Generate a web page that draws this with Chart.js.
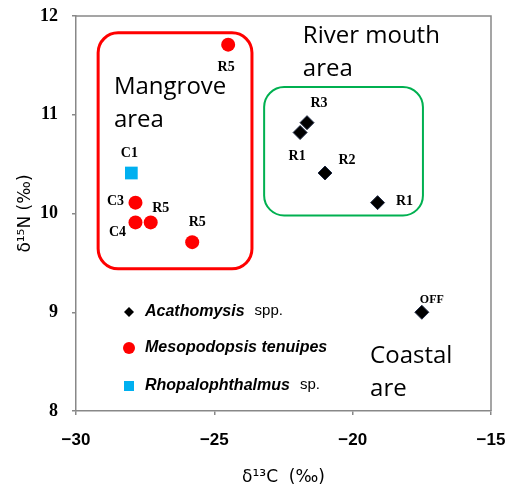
<!DOCTYPE html>
<html>
<head>
<meta charset="utf-8">
<script src="https://cdn.jsdelivr.net/npm/chart.js@4.4.1/dist/chart.umd.min.js"></script>
<style>
  body { margin: 0; background: #fff; }
</style>
</head>
<body>
<canvas id="chart" width="506" height="488"></canvas>
<script>
// values (d13C, d15N)
const acaX = [-21.65, -21.9, -21.0, -19.1, -17.5];
const acaY = [10.92, 10.82, 10.41, 10.11, 9.0];
const acaLabels = ['R3', 'R1', 'R2', 'R1', 'OFF'];

const mesoX = [-24.5, -27.85, -27.85, -27.3, -25.8];
const mesoY = [11.71, 10.11, 9.91, 9.91, 9.71];
const mesoLabels = ['R5', 'C3', 'C4', 'R5', 'R5'];

const rhoX = [-28.0];
const rhoY = [10.41];
const rhoLabels = ['C1'];

const xTicks = [-30, -25, -20, -15];
const yTicks = [8, 9, 10, 11, 12];

// area boxes in data units: [xMin, xMax, yMin, yMax]
const mangroveBox = [-29.2, -23.64, 9.44, 11.83];
const riverBox = [-23.2, -17.46, 9.98, 11.28];

// area captions: anchor (x, y of first baseline) and lines
const areaTexts = [
  { x: -28.63, y: 11.21, lines: ['Mangrove', 'area'] },
  { x: -21.8, y: 11.73, lines: ['River mouth', 'area'] },
  { x: -19.37, y: 8.49, lines: ['Coastal', 'are'] }
];

// label offsets from point, pixels
const acaOffsets = [[12, -19], [-3, 24], [22, -13], [27, -1], [10, -12]];
const mesoOffsets = [[-2, 23], [-20, -1], [-18, 10], [10, -14], [5, -20]];
const rhoOffsets = [[-2, -20]];

const toPoints = (xs, ys) => xs.map((x, i) => ({ x, y: ys[i] }));
const minus = v => String(v).replace('-', '\u2212');

function roundBox(ctx, x0, y0, x1, y1, r) {
  ctx.beginPath();
  ctx.moveTo(x0 + r, y0);
  ctx.lineTo(x1 - r, y0);
  ctx.arcTo(x1, y0, x1, y0 + r, r);
  ctx.lineTo(x1, y1 - r);
  ctx.arcTo(x1, y1, x1 - r, y1, r);
  ctx.lineTo(x0 + r, y1);
  ctx.arcTo(x0, y1, x0, y1 - r, r);
  ctx.lineTo(x0, y0 + r);
  ctx.arcTo(x0, y0, x0 + r, y0, r);
  ctx.closePath();
}

const decorations = {
  id: 'decorations',
  beforeDatasetsDraw(chart) {
    const { ctx, scales: { x, y } } = chart;
    const boxes = [[mangroveBox, '#ff0000', 3], [riverBox, '#00b050', 2]];
    ctx.save();
    boxes.forEach(([b, color, w]) => {
      roundBox(ctx, x.getPixelForValue(b[0]), y.getPixelForValue(b[3]),
        x.getPixelForValue(b[1]), y.getPixelForValue(b[2]), 20);
      ctx.strokeStyle = color;
      ctx.lineWidth = w;
      ctx.stroke();
    });
    ctx.restore();
  },
  afterDatasetsDraw(chart) {
    const { ctx, chartArea, scales: { x, y } } = chart;
    ctx.save();

    // top and right frame
    ctx.strokeStyle = '#888';
    ctx.lineWidth = 1.5;
    ctx.beginPath();
    ctx.moveTo(chartArea.left, chartArea.top);
    ctx.lineTo(chartArea.right, chartArea.top);
    ctx.lineTo(chartArea.right, chartArea.bottom);
    ctx.stroke();

    // point labels
    ctx.fillStyle = '#000';
    ctx.textAlign = 'center';
    ctx.textBaseline = 'middle';
    const sets = [[acaLabels, acaOffsets], [mesoLabels, mesoOffsets], [rhoLabels, rhoOffsets]];
    sets.forEach(([labels, offs], di) => {
      const meta = chart.getDatasetMeta(di);
      meta.data.forEach((pt, i) => {
        ctx.font = (labels[i] === 'OFF' ? 'bold 12px' : 'bold 14px') + ' "Liberation Serif", serif';
        ctx.fillText(labels[i], pt.x + offs[i][0], pt.y + offs[i][1]);
      });
    });

    // area captions
    ctx.font = '24px "Open Sans", sans-serif';
    ctx.textAlign = 'left';
    ctx.textBaseline = 'alphabetic';
    areaTexts.forEach(t => {
      const px = x.getPixelForValue(t.x);
      const py = y.getPixelForValue(t.y);
      t.lines.forEach((line, i) => ctx.fillText(line, px, py + i * 33));
    });

    // legend
    const lx = chartArea.left + 53;
    const rows = [296, 332, 370].map(v => chartArea.top + v);
    ctx.textBaseline = 'middle';

    ctx.fillStyle = '#000';
    ctx.beginPath();
    ctx.moveTo(lx, rows[0] - 5);
    ctx.lineTo(lx + 5, rows[0]);
    ctx.lineTo(lx, rows[0] + 5);
    ctx.lineTo(lx - 5, rows[0]);
    ctx.closePath();
    ctx.fill();

    ctx.fillStyle = '#ff0000';
    ctx.beginPath();
    ctx.arc(lx, rows[1], 6, 0, Math.PI * 2);
    ctx.fill();

    ctx.fillStyle = '#00b0f0';
    ctx.fillRect(lx - 5, rows[2] - 5, 10, 10);

    const entries = [['Acathomysis', 'spp.'], ['Mesopodopsis tenuipes', ''], ['Rhopalophthalmus', 'sp.']];
    ctx.fillStyle = '#000';
    entries.forEach(([ital, plain], i) => {
      const tx = lx + 16;
      ctx.font = 'italic bold 16px "Liberation Sans", sans-serif';
      ctx.fillText(ital, tx, rows[i]);
      const w = ctx.measureText(ital).width;
      if (plain) {
        ctx.font = '15px "Liberation Sans", sans-serif';
        ctx.fillText(plain, tx + w + 10, rows[i] - 1);
      }
    });

    ctx.restore();
  }
};

new Chart(document.getElementById('chart').getContext('2d'), {
  type: 'scatter',
  data: {
    datasets: [
      {
        label: 'Acathomysis spp.',
        data: toPoints(acaX, acaY),
        pointStyle: 'rectRot',
        pointRadius: 7,
        backgroundColor: '#000',
        borderColor: '#1f2a44',
        borderWidth: 1
      },
      {
        label: 'Mesopodopsis tenuipes',
        data: toPoints(mesoX, mesoY),
        pointStyle: 'circle',
        pointRadius: 7,
        backgroundColor: '#ff0000',
        borderColor: '#ff0000',
        borderWidth: 0
      },
      {
        label: 'Rhopalophthalmus sp.',
        data: toPoints(rhoX, rhoY),
        pointStyle: 'rect',
        pointRadius: 9,
        backgroundColor: '#00b0f0',
        borderColor: '#00b0f0',
        borderWidth: 0
      }
    ]
  },
  options: {
    responsive: false,
    animation: false,
    layout: { padding: { top: 16, right: 15, left: 0, bottom: 0 } },
    plugins: {
      legend: { display: false },
      tooltip: { enabled: false }
    },
    scales: {
      x: {
        type: 'linear',
        min: xTicks[0],
        max: xTicks[xTicks.length - 1],
        afterBuildTicks: s => { s.ticks = xTicks.map(v => ({ value: v })); },
        afterFit: s => { s.height = 77; s.paddingLeft = 0; s.paddingRight = 0; },
        ticks: {
          callback: v => minus(v),
          color: '#000',
          padding: 15,
          maxRotation: 0,
          font: { family: '"Liberation Sans Narrow", "Liberation Sans", sans-serif', weight: 'bold', size: 17 }
        },
        grid: { drawOnChartArea: false, tickLength: 4, color: '#888', lineWidth: 1.5 },
        border: { color: '#888', width: 1.5 },
        title: {
          display: true,
          text: 'δ¹³C  (‰)',
          color: '#000',
          padding: { top: 0, bottom: 0 },
          font: { family: '"DejaVu Sans", sans-serif', size: 17 }
        }
      },
      y: {
        type: 'linear',
        min: yTicks[0],
        max: yTicks[yTicks.length - 1],
        afterBuildTicks: s => { s.ticks = yTicks.map(v => ({ value: v })); },
        afterFit: s => { s.width = 76; s.paddingTop = 0; s.paddingBottom = 0; },
        ticks: {
          color: '#000',
          padding: 14,
          font: { family: '"Liberation Serif", serif', weight: 'bold', size: 18 }
        },
        grid: { drawOnChartArea: false, tickLength: 4, color: '#888', lineWidth: 1.5 },
        border: { color: '#888', width: 1.5 },
        title: {
          display: true,
          text: 'δ¹⁵N (‰)',
          color: '#000',
          padding: { top: 15, bottom: 0 },
          font: { family: '"DejaVu Sans", sans-serif', size: 17 }
        }
      }
    }
  },
  plugins: [decorations]
});
</script>
</body>
</html>
